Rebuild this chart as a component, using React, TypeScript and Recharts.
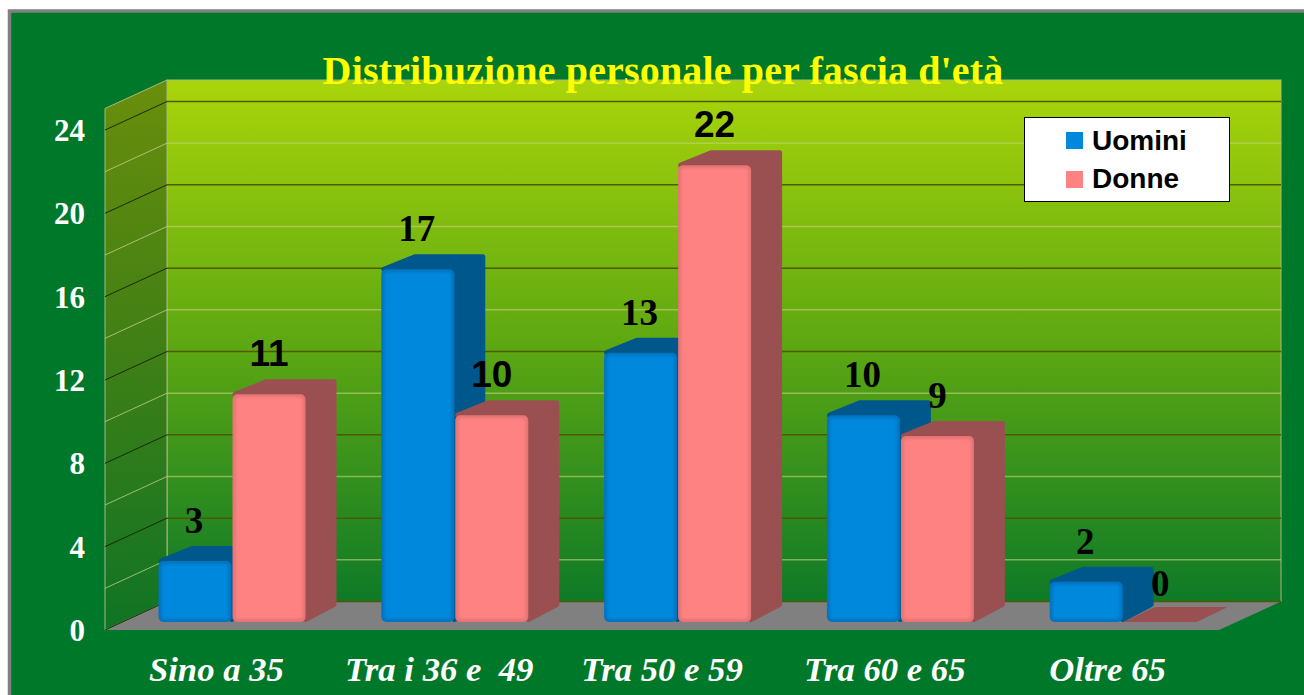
import React from 'react';
import { BarChart, Bar, XAxis, YAxis, CartesianGrid, Legend, LabelList } from 'recharts';

const categories = ['Sino a 35', 'Tra i 36 e  49', 'Tra 50 e 59', 'Tra 60 e 65', 'Oltre 65'];
const uomini = [3, 17, 13, 10, 2];
const donne = [11, 10, 22, 9, 0];
const yTicks = [0, 4, 8, 12, 16, 20, 24];
const gridValues = [0, 2, 4, 6, 8, 10, 12, 14, 16, 18, 20, 22, 24];

const data = categories.map((name, i) => ({ name, Uomini: uomini[i], Donne: donne[i] }));

const W = 1304;
const H = 695;
// piano frontale del grafico
const LEFT = 105;
const RIGHT = 1219;
const TOP = 130;
const BOTTOM = 630;
// profondita della scatola e delle barre
const DEPTH_X = 62;
const DEPTH_Y = 28.5;
const BAR_DX = 31;
const BAR_DY = 15;
const SHIFT_X = 15.5;
const SHIFT_Y = 8;
const TOP_INSET = 1.5;
const CORNER = 2.5;
const WALL_TOP = 80;

const SERIF = '"Liberation Serif", serif';
const SANS = '"Liberation Sans", sans-serif';

const EDGE: Record<string, string> = { '#0088dd': '#0074c0', '#ff8282': '#e57474' };
const SIDE: Record<string, string> = { '#0088dd': '#00578c', '#ff8282': '#9a5050' };

const Bar3D = (props: any) => {
  const { x, y, width, height, fill } = props;
  const fx = x + SHIFT_X;
  const fy = y - SHIFT_Y + TOP_INSET;
  const h = height - TOP_INSET;
  const side = SIDE[fill];
  if (height <= 0) {
    const flatY = y - SHIFT_Y;
    return (
      <polygon
        points={`${fx},${flatY} ${fx + BAR_DX},${flatY - BAR_DY} ${fx + width + BAR_DX},${flatY - BAR_DY} ${fx + width},${flatY}`}
        fill={side}
      />
    );
  }
  const bot = fy + h;
  const backX = fx + width + BAR_DX - CORNER;
  const backY = fy - BAR_DY + CORNER;
  return (
    <g>
      <polygon
        points={`${fx + CORNER},${fy} ${fx + BAR_DX + CORNER},${backY} ${backX},${backY} ${backX},${bot - BAR_DY - CORNER} ${fx + width},${bot - CORNER} ${fx + width},${fy}`}
        fill={side}
        stroke={side}
        strokeWidth={CORNER * 2}
        strokeLinejoin="round"
      />
      <rect x={fx} y={fy} width={width} height={h} rx={5} fill={EDGE[fill]} />
      <rect
        x={fx + 3}
        y={fy + 3}
        width={width - 6}
        height={h - 6}
        rx={3}
        fill={fill}
        filter="url(#softEdge)"
      />
    </g>
  );
};

const ValueLabel = (props: any) => {
  const { x, y, width, value, index, serie } = props;
  // nell'originale le etichette hanno font diversi
  const serif = serie === 'Uomini' || index >= 3;
  return (
    <text
      x={x + SHIFT_X + width / 2 + (serie === 'Uomini' ? -1 : 0)}
      y={y - SHIFT_Y - 39}
      textAnchor="middle"
      dominantBaseline="central"
      fontFamily={serif ? SERIF : SANS}
      fontWeight="bold"
      fontSize={37}
      fill="#000"
    >
      {value}
    </text>
  );
};

const CategoryTick = (props: any) => {
  const { x, y, payload } = props;
  return (
    <text
      x={x}
      y={y + 43}
      textAnchor="middle"
      fill="#fff"
      fontFamily={SERIF}
      fontWeight="bold"
      fontStyle="italic"
      fontSize={34.7}
      style={{ whiteSpace: 'pre' }}
    >
      {payload.value}
    </text>
  );
};

const GridLine = (props: any) => {
  const { y1 } = props;
  const value = Math.round(((BOTTOM - y1) / (BOTTOM - TOP)) * 24);
  const major = value % 4 === 0;
  const backY = y1 - DEPTH_Y;
  return (
    <g>
      <line
        x1={LEFT}
        y1={y1}
        x2={LEFT + DEPTH_X}
        y2={backY}
        stroke={major ? '#1a2a00' : '#c8d490'}
        strokeOpacity={major ? 1 : 0.75}
        strokeWidth={1}
      />
      <line
        x1={LEFT + DEPTH_X}
        y1={backY}
        x2={RIGHT + DEPTH_X}
        y2={backY}
        stroke={major ? '#4f5a00' : '#c4d080'}
        strokeOpacity={major ? 1 : 0.6}
        strokeWidth={1.5}
      />
    </g>
  );
};

const Box = () => (
  <g>
    <defs>
      <linearGradient id="wall" x1="0" y1="0" x2="0" y2="1">
        <stop offset="0%" stopColor="#aad50a" />
        <stop offset="50%" stopColor="#5ea812" />
        <stop offset="100%" stopColor="#0e7a27" />
      </linearGradient>
      <linearGradient id="sideWall" x1="0" y1="0" x2="0" y2="1">
        <stop offset="0%" stopColor="#6a8e0b" />
        <stop offset="50%" stopColor="#3f7f16" />
        <stop offset="100%" stopColor="#0f7425" />
      </linearGradient>
      <filter id="softEdge" x="-10%" y="-10%" width="120%" height="120%">
        <feGaussianBlur stdDeviation="1.8" />
      </filter>
    </defs>
    <rect x={9.5} y={11} width={W} height={H} fill="#00782a" stroke="#808080" strokeWidth={3.5} />
    <rect
      x={LEFT + DEPTH_X}
      y={WALL_TOP}
      width={RIGHT - LEFT}
      height={BOTTOM - DEPTH_Y - WALL_TOP}
      fill="url(#wall)"
      stroke="#a8b880"
      strokeWidth={1}
    />
    <polygon
      points={`${LEFT},${WALL_TOP + DEPTH_Y} ${LEFT + DEPTH_X},${WALL_TOP} ${LEFT + DEPTH_X},${BOTTOM - DEPTH_Y} ${LEFT},${BOTTOM}`}
      fill="url(#sideWall)"
      stroke="#a8b880"
      strokeWidth={1}
    />
    <polygon
      points={`${LEFT},${BOTTOM} ${RIGHT},${BOTTOM} ${RIGHT + DEPTH_X},${BOTTOM - DEPTH_Y} ${LEFT + DEPTH_X},${BOTTOM - DEPTH_Y}`}
      fill="#808080"
    />
  </g>
);

const Title = () => (
  <text
    x={663}
    y={70}
    textAnchor="middle"
    dominantBaseline="central"
    fontFamily={SERIF}
    fontWeight="bold"
    fontSize={40}
    letterSpacing={0.15}
    fill="#ffff00"
  >
    Distribuzione personale per fascia d'età
  </text>
);

const LegendBox = ({ payload = [] }: any) => (
  <div
    style={{
      width: 206,
      height: 85,
      boxSizing: 'border-box',
      background: '#fff',
      border: '1px solid #000',
      paddingLeft: 41,
      paddingTop: 4,
      fontFamily: SANS,
      fontWeight: 'bold',
      fontSize: 28,
      color: '#000',
    }}
  >
    {payload.map((entry: any) => (
      <div key={entry.value} style={{ display: 'flex', alignItems: 'center', height: 38.5 }}>
        <span style={{ width: 17, height: 17, background: entry.color, marginRight: 9 }} />
        {entry.value}
      </div>
    ))}
  </div>
);

const App = () => (
  <div style={{ position: 'absolute', left: 0, top: 0, width: W, height: H, overflow: 'hidden', background: '#fff' }}>
    <BarChart
      width={W}
      height={H}
      data={data}
      barSize={73}
      barGap={1}
      margin={{ top: TOP, right: W - RIGHT, bottom: 0, left: LEFT - 60 }}
    >
      <Box />
      <CartesianGrid horizontalValues={gridValues} vertical={false} horizontal={GridLine} zIndex={50} />
      <XAxis
        dataKey="name"
        axisLine={false}
        tickLine={false}
        interval={0}
        height={H - BOTTOM}
        tick={<CategoryTick />}
      />
      <YAxis
        width={60}
        domain={[0, 24]}
        ticks={yTicks}
        interval={0}
        axisLine={false}
        tickLine={false}
        tickSize={0}
        tickMargin={20}
        tick={{ fill: '#fff', fontFamily: SERIF, fontWeight: 'bold', fontSize: 31 }}
      />
      {/* verticalAlign middle: la legenda non toglie spazio al grafico */}
      <Legend
        layout="horizontal"
        verticalAlign="middle"
        content={<LegendBox />}
        itemSorter={null}
        wrapperStyle={{ position: 'absolute', left: 1024, top: 116.5, width: 206, height: 85, bottom: 'auto' }}
      />
      <Bar dataKey="Uomini" fill="#0088dd" shape={Bar3D} isAnimationActive={false}>
        <LabelList dataKey="Uomini" content={<ValueLabel serie="Uomini" />} />
      </Bar>
      <Bar dataKey="Donne" fill="#ff8282" shape={Bar3D} isAnimationActive={false}>
        <LabelList dataKey="Donne" content={<ValueLabel serie="Donne" />} />
      </Bar>
      <Title />
    </BarChart>
  </div>
);

export default App;
